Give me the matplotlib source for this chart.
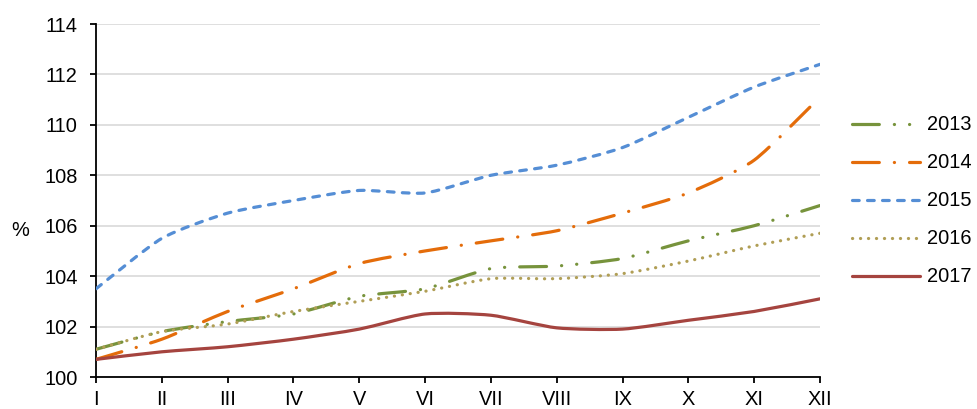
import numpy as np
import matplotlib
matplotlib.use("Agg")
import matplotlib.pyplot as plt
from matplotlib.path import Path
from matplotlib.patches import PathPatch
from matplotlib.lines import Line2D

months = ["I", "II", "III", "IV", "V", "VI", "VII", "VIII", "IX", "X", "XI", "XII"]
s2013 = [101.1, 101.8, 102.2, 102.5, 103.2, 103.5, 104.3, 104.4, 104.7, 105.4, 106.0, 106.8]
s2014 = [100.7, 101.5, 102.6, 103.5, 104.5, 105.0, 105.4, 105.8, 106.5, 107.3, 108.6, 111.1]
s2015 = [103.5, 105.5, 106.5, 107.0, 107.4, 107.3, 108.0, 108.4, 109.1, 110.3, 111.5, 112.4]
s2016 = [101.1, 101.8, 102.1, 102.6, 103.0, 103.4, 103.9, 103.9, 104.1, 104.6, 105.2, 105.7]
s2017 = [100.7, 101.0, 101.2, 101.5, 101.9, 102.5, 102.45, 101.95, 101.9, 102.25, 102.6, 103.1]

labels = ["2013", "2014", "2015", "2016", "2017"]
series = [s2013, s2014, s2015, s2016, s2017]
colors = ["#77933C", "#E46C0A", "#558ED5", "#B09E55", "#A5443F"]
styles = [(0, (8.4, 4.7, 0.05, 4.7, 0.05, 4.7)), (0, (8.4, 4.7, 0.05, 4.7)),
          (0, (2.1, 2.6)), (0, (0.05, 2.45)), "-"]
lw = 2.3
fs = 14.4


def smooth_path(x, y, k=9.0):
    # smoothed line like excel: cubic bezier through the points
    x = np.asarray(x, float)
    y = np.asarray(y, float)
    n = len(x)
    verts = [(x[0], y[0])]
    codes = [Path.MOVETO]
    for i in range(n - 1):
        p0 = np.array([x[max(i - 1, 0)], y[max(i - 1, 0)]])
        p1 = np.array([x[i], y[i]])
        p2 = np.array([x[i + 1], y[i + 1]])
        p3 = np.array([x[min(i + 2, n - 1)], y[min(i + 2, n - 1)]])
        c1 = p1 + (p2 - p0) / k
        c2 = p2 - (p3 - p1) / k
        verts += [tuple(c1), tuple(c2), tuple(p2)]
        codes += [Path.CURVE4] * 3
    return Path(verts, codes)


plt.rcParams['font.family'] = ['Liberation Sans', 'DejaVu Sans']
fig = plt.figure(figsize=(9.78, 4.09), dpi=100)
ax = fig.add_axes([0.0982, 0.0782, 0.7402, 0.8631])

xs = np.arange(len(months))
handles = []
for lab, s, c, ls in zip(labels, series, colors, styles):
    patch = PathPatch(smooth_path(xs, s), facecolor="none", edgecolor=c,
                      linewidth=lw, linestyle=ls, capstyle="round", zorder=3)
    ax.add_patch(patch)
    handles.append(Line2D([], [], color=c, linewidth=lw, linestyle=ls,
                          dash_capstyle="round", solid_capstyle="round", label=lab))

ax.set_xlim(0, len(months) - 1)
ax.set_ylim(100, 114)
ax.set_yticks(np.arange(100, 115, 2))
ax.set_xticks(xs)
ax.set_xticklabels(months)
ax.yaxis.grid(True, color="#D9D9D9", linewidth=1.2)
ax.set_axisbelow(True)
for sp in ["top", "right"]:
    ax.spines[sp].set_visible(False)
for sp in ["left", "bottom"]:
    ax.spines[sp].set_linewidth(1.3)
ax.tick_params(axis="both", labelsize=fs, width=1.3, length=4.3, direction="out")
ax.tick_params(axis="y", pad=9)
ax.tick_params(axis="x", pad=5)

fig.text(20 / 978, 1 - 230 / 409, "%", fontsize=fs, ha="center", va="center")

fig.legend(handles=handles, loc="center left", bbox_to_anchor=(852 / 978, 1 - 201 / 409),
           frameon=False, fontsize=fs, handlelength=3.4, handletextpad=0.35,
           labelspacing=0.95, borderpad=0, borderaxespad=0)

fig.savefig("out.png", dpi=100)
